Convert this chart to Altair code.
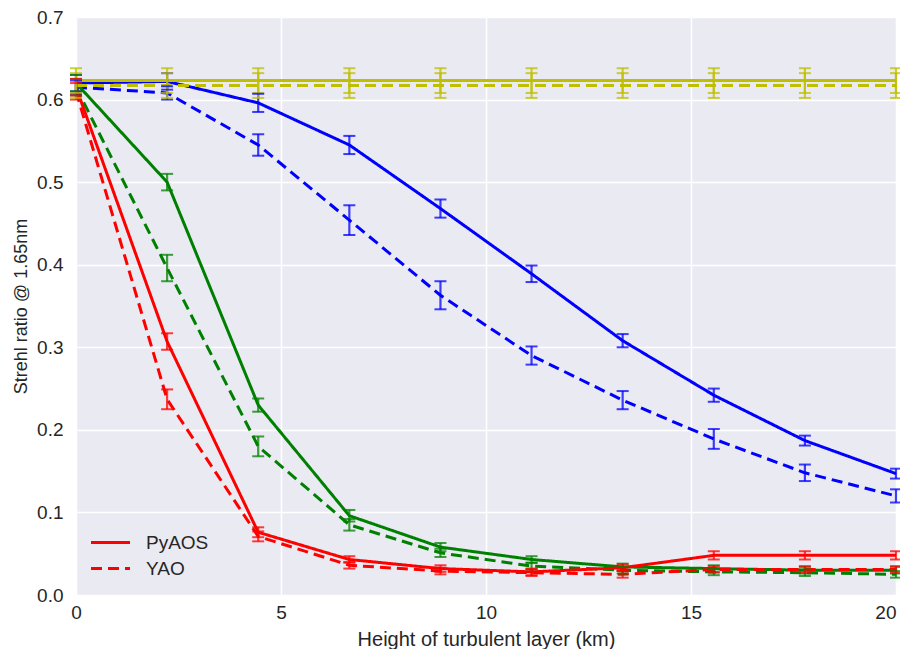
import altair as alt
import pandas as pd

heights = [0.0, 2.222, 4.444, 6.667, 8.889, 11.111, 13.333, 15.556, 17.778, 20.0]

blue_pyaos = [0.620, 0.622, 0.596, 0.545, 0.468, 0.389, 0.308, 0.242, 0.187, 0.147]
blue_pyaos_err = [0.010, 0.010, 0.011, 0.011, 0.011, 0.010, 0.008, 0.008, 0.006, 0.006]
blue_yao = [0.615, 0.608, 0.545, 0.454, 0.363, 0.290, 0.236, 0.189, 0.148, 0.120]
blue_yao_err = [0.008, 0.008, 0.013, 0.018, 0.017, 0.011, 0.011, 0.012, 0.010, 0.008]

green_pyaos = [0.620, 0.500, 0.230, 0.096, 0.058, 0.043, 0.034, 0.032, 0.030, 0.030]
green_pyaos_err = [0.010, 0.010, 0.008, 0.007, 0.005, 0.004, 0.004, 0.004, 0.004, 0.004]
green_yao = [0.615, 0.396, 0.180, 0.085, 0.051, 0.035, 0.030, 0.028, 0.027, 0.025]
green_yao_err = [0.010, 0.016, 0.012, 0.007, 0.005, 0.004, 0.004, 0.004, 0.004, 0.004]

red_pyaos = [0.615, 0.307, 0.076, 0.043, 0.032, 0.028, 0.033, 0.048, 0.048, 0.048]
red_pyaos_err = [0.010, 0.010, 0.006, 0.004, 0.004, 0.004, 0.004, 0.005, 0.005, 0.005]
red_yao = [0.610, 0.237, 0.071, 0.036, 0.029, 0.027, 0.025, 0.031, 0.031, 0.031]
red_yao_err = [0.010, 0.012, 0.006, 0.004, 0.004, 0.004, 0.004, 0.004, 0.004, 0.004]

yellow_pyaos = [0.623, 0.623, 0.623, 0.623, 0.623, 0.623, 0.623, 0.623, 0.623, 0.623]
yellow_pyaos_err = [0.015] * 10
yellow_yao = [0.617, 0.617, 0.617, 0.617, 0.617, 0.617, 0.617, 0.617, 0.617, 0.617]
yellow_yao_err = [0.015] * 10

series_names = ["blue", "green", "red", "yellow"]
series_colors = ["#0000ff", "#008000", "#ff0000", "#bfbf00"]
codes = ["PyAOS", "YAO"]

table = {
    ("blue", "PyAOS"): (blue_pyaos, blue_pyaos_err),
    ("blue", "YAO"): (blue_yao, blue_yao_err),
    ("green", "PyAOS"): (green_pyaos, green_pyaos_err),
    ("green", "YAO"): (green_yao, green_yao_err),
    ("red", "PyAOS"): (red_pyaos, red_pyaos_err),
    ("red", "YAO"): (red_yao, red_yao_err),
    ("yellow", "PyAOS"): (yellow_pyaos, yellow_pyaos_err),
    ("yellow", "YAO"): (yellow_yao, yellow_yao_err),
}

rows = []
order = 0
for (s, c), (vals, errs) in table.items():
    for h, v, e in zip(heights, vals, errs):
        rows.append({"series": s, "code": c, "key": s + "-" + c, "h": h,
                     "v": v, "lo": v - e, "hi": v + e, "ord": order})
    order += 1
df = pd.DataFrame(rows)

xscale = alt.Scale(domain=[0, 20], nice=False, zero=False)
yscale = alt.Scale(domain=[0, 0.7], nice=False)
color = alt.Color("series:N", scale=alt.Scale(domain=series_names, range=series_colors), legend=None)

base = alt.Chart(df)

lines = base.mark_line(strokeWidth=3, clip=True).encode(
    x=alt.X("h:Q", scale=xscale, title="Height of turbulent layer (km)",
            axis=alt.Axis(values=[0, 5, 10, 15, 20], format="d", titleFontSize=20,
                          labelFlush=False,
                          labelAlign={"expr": "datum.value == 20 ? 'right' : 'center'"})),
    y=alt.Y("v:Q", scale=yscale, title="Strehl ratio @ 1.65nm",
            axis=alt.Axis(values=[0, 0.1, 0.2, 0.3, 0.4, 0.5, 0.6, 0.7], format=".1f",
                          titleFontSize=18, labelFlush=False)),
    color=color,
    detail="key:N",
    strokeDash=alt.StrokeDash("code:N",
                              scale=alt.Scale(domain=codes, range=[[1, 0], [11, 6]]),
                              legend=alt.Legend(title=None, orient="none", legendX=23, legendY=514,
                                                symbolType="M-2,0H2", symbolStrokeColor="#ff0000",
                                                symbolStrokeWidth=3, symbolSize=380,
                                                labelFontSize=19, labelColor="#262626",
                                                labelFont="Liberation Sans", rowPadding=4,
                                                labelOffset=24)),
    order="ord:Q",
)

rules = base.mark_rule(strokeWidth=2.2, opacity=0.75).encode(
    x=alt.X("h:Q", scale=xscale),
    y=alt.Y("lo:Q", scale=yscale),
    y2="hi:Q",
    color=color,
)
caps_lo = base.mark_tick(orient="horizontal", size=12, thickness=2, opacity=0.75).encode(
    x=alt.X("h:Q", scale=xscale), y=alt.Y("lo:Q", scale=yscale), color=color)
caps_hi = base.mark_tick(orient="horizontal", size=12, thickness=2, opacity=0.75).encode(
    x=alt.X("h:Q", scale=xscale), y=alt.Y("hi:Q", scale=yscale), color=color)

chart = alt.layer(lines, rules, caps_lo, caps_hi).properties(
    width=820, height=578,
    autosize=alt.AutoSizeParams(type="none"),
    padding={"left": 68, "top": 9, "right": 4, "bottom": 54},
).configure_view(
    fill="#eaeaf2", stroke=None
).configure_axis(
    grid=True, gridColor="#ffffff", gridWidth=1.5, domain=False,
    ticks=False, labelFontSize=19, titleFontSize=19, labelFont="Liberation Sans",
    titleFont="Liberation Sans", labelColor="#262626", titleColor="#262626",
    titleFontWeight="normal", labelPadding=13
).configure_axisX(labelPadding=8, titlePadding=7).configure_axisY(titlePadding=6)

chart.save("out.html", embed_options={"renderer": "svg", "actions": False})
